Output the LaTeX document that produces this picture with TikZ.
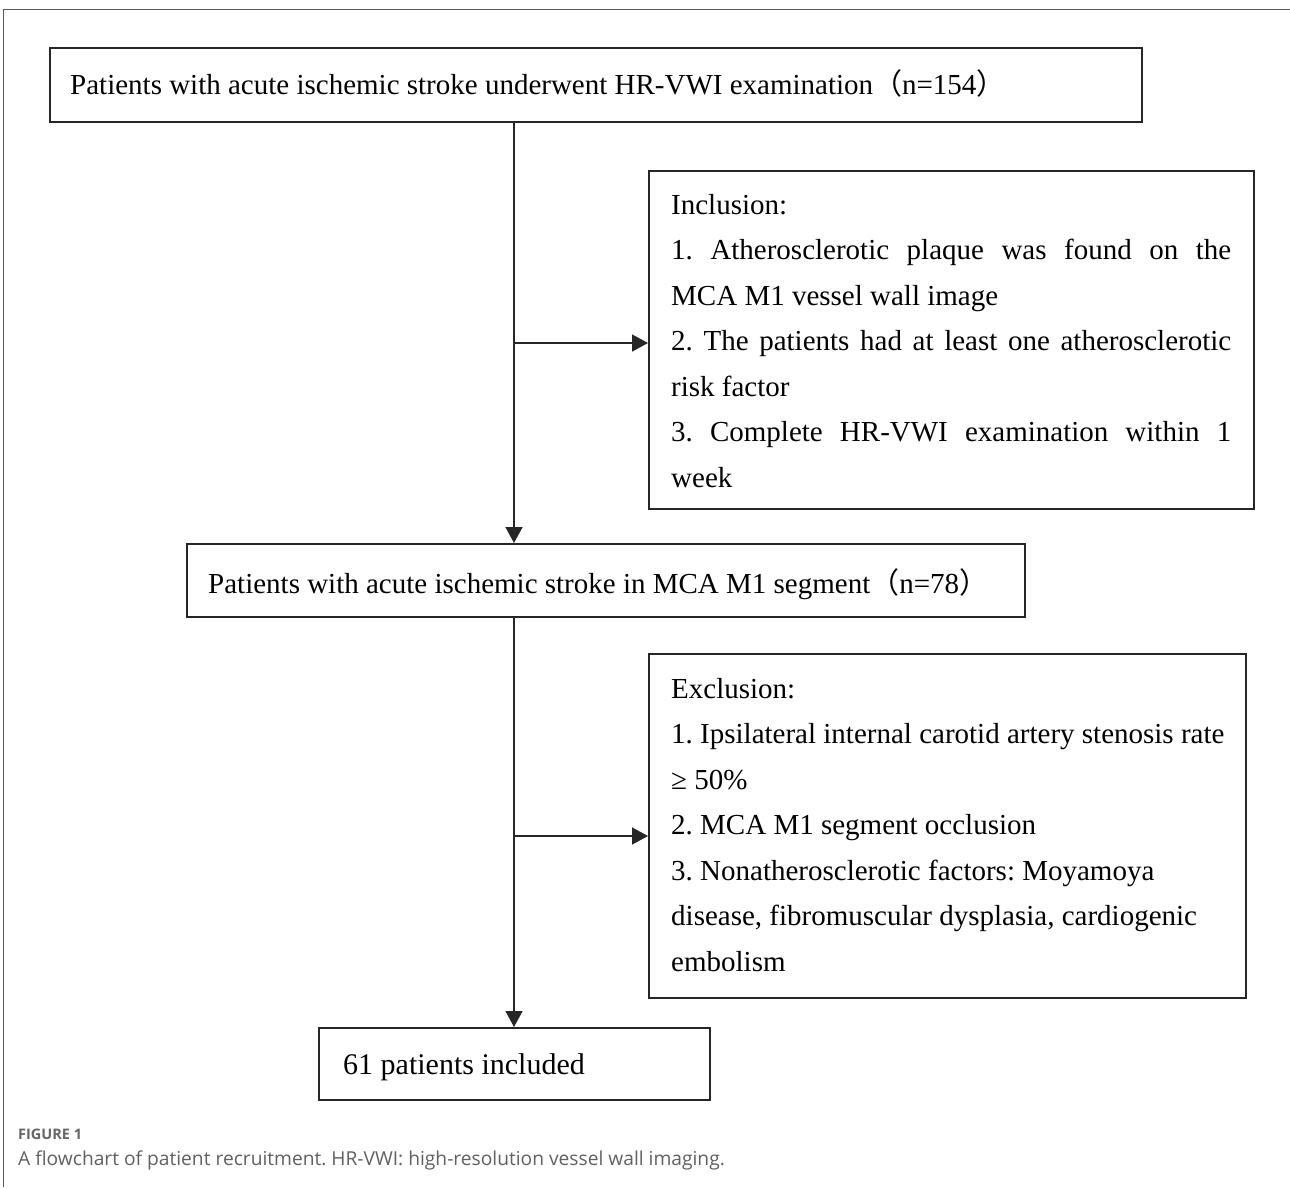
\documentclass[tikz,border=0pt]{standalone}
\usepackage{fontspec}
\setmainfont{Liberation Serif}
\newfontfamily\cjk{Noto Sans CJK SC}
\newfontfamily\capfont{Open Sans}
\usetikzlibrary{arrows.meta}
\begin{document}
\frenchspacing
\begin{tikzpicture}[x=1pt,y=-1pt,
  box/.style={draw=black!85, line width=1.8pt, anchor=north west, inner sep=0pt},
  txt/.style={anchor=base west, inner sep=0pt, font=\fontsize{29}{45.5}\selectfont},
  conn/.style={draw=black!85, line width=1.5pt, -{Triangle[length=16pt,width=17pt]}},
  frame/.style={draw=black!65, line width=1.5pt}]
\useasboundingbox (0,0) rectangle (1290,1187);
\fill[white] (0,0) rectangle (1290,1187);
\draw[frame] (1290,9.5) -- (3.5,9.5) -- (3.5,1187);
% boxes
\node[box, minimum width=1092pt, minimum height=74pt] (b1) at (49,47) {};
\node[box, minimum width=605pt, minimum height=338pt] (inc) at (648,170) {};
\node[box, minimum width=838pt, minimum height=73pt] (b2) at (186,543) {};
\node[box, minimum width=597pt, minimum height=344pt] (exc) at (648,653) {};
\node[box, minimum width=391pt, minimum height=72pt] (b3) at (318,1027) {};
% texts
\node[txt] (b1t) at (70,94) {Patients with acute ischemic stroke underwent HR-VWI examination{\cjk （}n=154{\cjk ）}};
\node[txt] (b2t) at (208,593) {Patients with acute ischemic stroke in MCA M1 segment{\cjk （}n=78{\cjk ）}};
\node[txt, font=\fontsize{30}{36}\selectfont] (b3t) at (343,1074) {61 patients included};
\node[txt] (inct) at (671,214) {\vtop{\hsize=560pt\baselineskip=45.5pt\lineskiplimit=-100pt\parindent=0pt
  \hbox{Inclusion:}
  \hbox to 560pt{1. Atherosclerotic plaque was found on the}
  \hbox{MCA M1 vessel wall image}
  \hbox to 560pt{2. The patients had at least one atherosclerotic}
  \hbox{risk factor}
  \hbox to 560pt{3. Complete HR-VWI examination within 1}
  \hbox{week}}};
\node[txt] (exct) at (671,698) {\vtop{\hsize=560pt\baselineskip=45.5pt\lineskiplimit=-100pt\parindent=0pt
  \hbox{Exclusion:}
  \hbox{1. Ipsilateral internal carotid artery stenosis rate}
  \hbox{≥ 50\%}
  \hbox{2. MCA M1 segment occlusion}
  \hbox{3. Nonatherosclerotic factors: Moyamoya}
  \hbox{disease, fibromuscular dysplasia, cardiogenic}
  \hbox{embolism}}};
% caption
\node[anchor=base west, inner sep=0pt, text=black!60, font=\capfont\bfseries\fontsize{14.5}{18}\selectfont] (fig) at (18,1139) {FIGURE 1};
\node[anchor=base west, inner sep=0pt, text=black!62, font=\capfont\fontsize{19.2}{22}\selectfont] (cap) at (18,1165) {A flowchart of patient recruitment. HR-VWI: high-resolution vessel wall imaging.};
% connectors
\coordinate (t1) at (514,343);
\coordinate (t2) at (514,836);
\draw[conn] (b1.south -| t1) -- (b2.north -| t1);
\draw[conn] (t1) -- (t1 -| inc.west);
\draw[conn] (b2.south -| t2) -- (b3.north -| t2);
\draw[conn] (t2) -- (t2 -| exc.west);
\end{tikzpicture}
\end{document}
